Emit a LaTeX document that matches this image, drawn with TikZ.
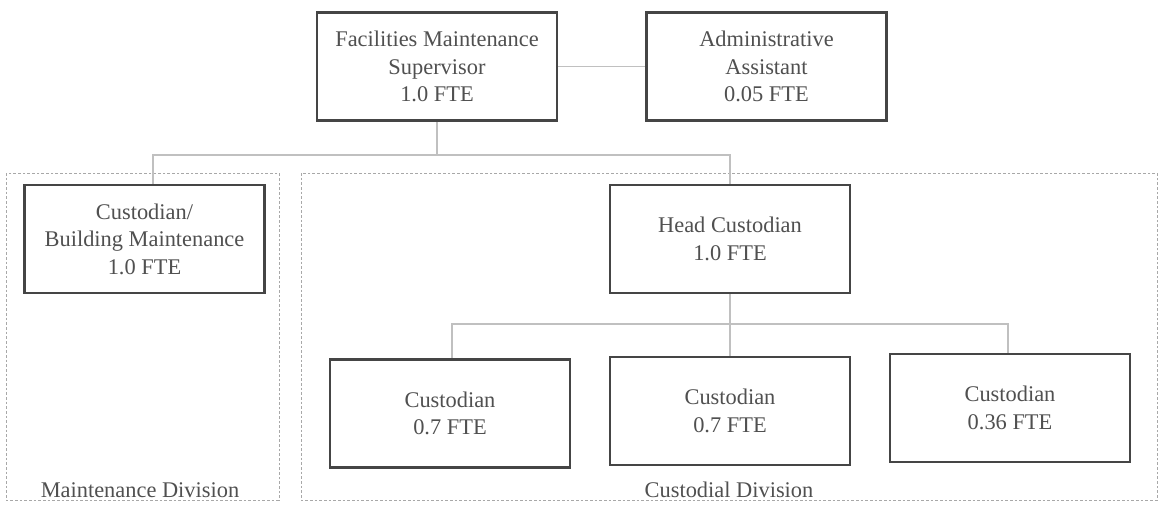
\documentclass[tikz,border=0pt]{standalone}
\usepackage{fontspec}
\setmainfont{Liberation Serif}
\usetikzlibrary{positioning, calc}
\definecolor{boxline}{HTML}{454545}
\definecolor{textgray}{HTML}{505050}
\definecolor{linkgray}{HTML}{C0C0C0}
\definecolor{divgray}{HTML}{A8A8A8}

\begin{document}
\begin{tikzpicture}[x=0.75pt,y=-0.75pt,line cap=round,
    post/.style={draw=boxline,line width=2.2pt,fill=white,minimum width=180pt,minimum height=81pt,
        align=center,text=textgray,font=\fontsize{16.8}{20.6}\selectfont,inner sep=0pt},
    link/.style={draw=linkgray,line width=1.1pt,line cap=butt},
    division/.style={draw=divgray,line width=0.7pt,dash pattern=on 2pt off 1.5pt,line cap=butt},
    divlabel/.style={anchor=base,text=textgray,font=\fontsize{16.8}{20.6}\selectfont,inner sep=0pt}]

                \useasboundingbox (0,0) rectangle (1159,508);

                \draw[division] (6,173) rectangle (279,500);
                \draw[division] (301,173) rectangle (1157,500);
                \node[divlabel] (maintdiv) at (140,497) {Maintenance Division};
                \node[divlabel] (custdiv) at (729,497) {Custodial Division};

                \node[post] (sup) at (437,66.5) {Facilities Maintenance\\Supervisor\\1.0 FTE};
                \node[post] (adm) at (766.5,66.5) {Administrative\\Assistant\\0.05 FTE};
                \node[post] (bldg) at (144.5,239) {Custodian/\\Building Maintenance\\1.0 FTE};
                \node[post] (head) at (730,239) {Head Custodian\\1.0 FTE};
                \node[post] (cust1) at (450,413.5) {Custodian\\0.7 FTE};
                \node[post] (cust2) at (730,411) {Custodian\\0.7 FTE};
                \node[post] (cust3) at (1010,408) {Custodian\\0.36 FTE};

                \coordinate (topfork) at (0,155);
                \coordinate (lowfork) at (0,324);

                \draw[link] (sup.east) -- (adm.west);
                \draw[link] (sup.south) -- (sup.south |- topfork) -| ([xshift=6.4pt]bldg.north);
                \draw[link] (sup.south |- topfork) -| (head.north);
                \draw[link] (head.south) -- (head.south |- lowfork) -| ([xshift=1.5pt]cust1.north);
                \draw[link] (head.south |- lowfork) -| (cust2.north);
                \draw[link] (head.south |- lowfork) -| ([xshift=-1.5pt]cust3.north);
            \end{tikzpicture}
\end{document}
